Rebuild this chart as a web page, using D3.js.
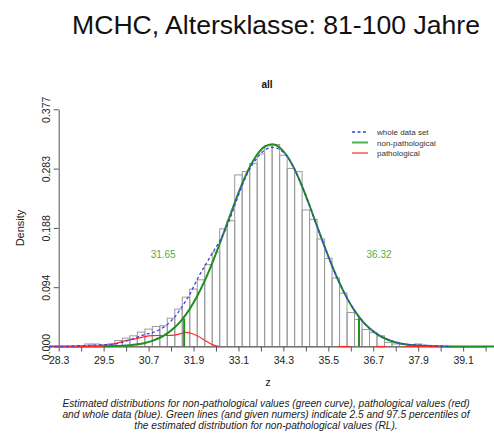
<!DOCTYPE html>
<html>
<head>
<meta charset="utf-8">
<script src="https://cdn.jsdelivr.net/npm/d3@7"></script>
<style>
  html, body { margin: 0; padding: 0; background: #fff; }
  svg { display: block; }
  text { font-family: "Liberation Sans", Arial, Helvetica, sans-serif; }
</style>
</head>
<body>
<svg id="chart" width="494" height="434"></svg>
<script>
// ---------------- data ----------------
const titleText = "MCHC, Altersklasse: 81-100 Jahre";
const panelText = "all";
const xLabel = "z";
const yLabel = "Density";

const xTicks = [28.3, 28.9, 29.5, 30.1, 30.7, 31.3, 31.9, 32.5, 33.1, 33.7, 34.3, 34.9, 35.5, 36.1, 36.7, 37.3, 37.9, 38.5, 39.1, 39.7];
const xTickLabels = ["28.3", "", "29.5", "", "30.7", "", "31.9", "", "33.1", "", "34.3", "", "35.5", "", "36.7", "", "37.9", "", "39.1", ""];
const yTicks = [0, 0.09425, 0.1885, 0.28275, 0.377];
const yTickLabels = ["0.000", "0.094", "0.188", "0.283", "0.377"];

// histogram: left edge of each 0.2-wide bin and its density
const binLeft = [28.8, 29.0, 29.2, 29.4, 29.6, 29.8, 30.0, 30.2, 30.4, 30.6, 30.8, 31.0, 31.2, 31.4, 31.6, 31.8,
                 32.0, 32.2, 32.4, 32.6, 32.8, 33.0, 33.2, 33.4, 33.6, 33.8, 34.0, 34.2, 34.4, 34.6, 34.8, 35.0,
                 35.2, 35.4, 35.6, 35.8, 36.0, 36.2, 36.4, 36.6, 36.8, 37.0, 37.2, 37.4, 37.6, 37.8, 38.0, 38.2];
const binDensity = [0.001, 0.004, 0.004, 0.003, 0.004, 0.0095, 0.0133, 0.017, 0.0228, 0.0276, 0.0318, 0.033, 0.045, 0.0594, 0.0784, 0.0912,
                    0.106, 0.130, 0.150, 0.187, 0.200, 0.2727, 0.278, 0.291, 0.306, 0.319, 0.321, 0.304, 0.283, 0.278, 0.217, 0.202,
                    0.171, 0.140, 0.109, 0.0848, 0.054, 0.043, 0.027, 0.022, 0.017, 0.0065, 0.004, 0.0035, 0.0025, 0.004, 0.002, 0.001];
const binWidth = 0.2;

// non-pathological (green) curve
const greenX = [28.05, 29.4, 29.6, 29.8, 30.0, 30.2, 30.4, 30.6, 30.8, 31.0, 31.2, 31.4, 31.6, 31.8, 32.0, 32.2, 32.4, 32.6, 32.8, 33.0,
                33.2, 33.4, 33.6, 33.8, 34.0, 34.2, 34.4, 34.6, 34.8, 35.0, 35.2, 35.4, 35.6, 35.8, 36.0, 36.2, 36.4, 36.6, 36.8,
                37.0, 37.2, 37.4, 37.6, 37.8, 38.0, 38.2, 38.4, 38.7, 39.95];
const greenY = [0, 0.0002, 0.0004, 0.0007, 0.0012, 0.0021, 0.0035, 0.0057, 0.009, 0.0139, 0.0209, 0.0305, 0.0433, 0.0598, 0.0802, 0.1046, 0.1327, 0.1636, 0.196, 0.2284,
                0.2588, 0.2851, 0.3052, 0.3177, 0.3216, 0.3164, 0.3027, 0.2815, 0.2545, 0.2237, 0.1911, 0.1588, 0.1283, 0.1007, 0.0769, 0.0571, 0.0412, 0.0289, 0.0197,
                0.0131, 0.0084, 0.0053, 0.0032, 0.0019, 0.0011, 0.0006, 0.0003, 0.0001, 0];

// whole data set (blue dashed) curve
const blueX = [28.05, 28.6, 28.8, 29.0, 29.2, 29.4, 29.6, 29.8, 30.0, 30.2, 30.4, 30.6, 30.8, 31.0, 31.2, 31.4, 31.6, 31.8, 32.0, 32.2,
               32.4, 32.6, 32.8, 33.0, 33.2, 33.4, 33.6, 33.8, 34.0, 34.2, 34.4, 34.6, 34.8, 35.0, 35.2, 35.4, 35.6, 35.8, 36.0,
               36.2, 36.4, 36.6, 36.8, 37.0, 37.2, 37.4, 37.6, 37.8, 38.0, 38.2, 38.4, 38.6, 38.8];
const blueY = [0, 0.0005, 0.001, 0.0015, 0.002, 0.0025, 0.003, 0.004, 0.007, 0.0105, 0.015, 0.019, 0.022, 0.027, 0.035, 0.047, 0.064, 0.083, 0.107, 0.128,
               0.148, 0.168, 0.192, 0.224, 0.256, 0.282, 0.300, 0.312, 0.3166, 0.313, 0.302, 0.2815, 0.2545, 0.2237, 0.191, 0.159, 0.128, 0.101, 0.077,
               0.057, 0.041, 0.029, 0.020, 0.013, 0.0085, 0.0055, 0.0035, 0.0025, 0.002, 0.0015, 0.001, 0.0005, 0];

// pathological (red) curve, drawn as separate pieces
const redPieces = [
  { x: [28.05, 29.4, 29.6, 29.8, 30.0, 30.2, 30.4, 30.6, 30.8, 31.0, 31.2, 31.4, 31.6, 31.7, 31.8, 32.0, 32.2, 32.4, 32.6],
    y: [0, 0, 0.002, 0.0045, 0.008, 0.0105, 0.013, 0.0158, 0.0172, 0.0175, 0.0175, 0.0182, 0.021, 0.0225, 0.0215, 0.017, 0.010, 0.003, 0] },
  { x: [35.77, 36.09], y: [0, 0] },
  { x: [36.78, 37.05], y: [0, 0] },
  { x: [37.5, 38.48], y: [0, 0] }
];

// 2.5 / 97.5 percentiles of the non-pathological distribution
const percentiles = [31.65, 36.32];
const percentileLabels = ["31.65", "36.32"];
const percentileHeights = [0.0445, 0.046];

const legendLabels = ["whole data set", "non-pathological", "pathological"];
const captionLines = [
  "Estimated distributions for non-pathological values (green curve), pathological values (red)",
  "and whole data (blue). Green lines (and given numers) indicate 2.5 and 97.5 percentiles of",
  "the estimated distribution for non-pathological values (RL)."
];

// ---------------- drawing ----------------
const svg = d3.select("#chart");
const x = d3.scaleLinear().domain([28.3, 39.7]).range([58.7, 485.6]);
const y = d3.scaleLinear().domain([0, 0.377]).range([346.5, 109.3]);

const colGreen = "#1f8f1f", colBlue = "#3c3cf0", colRed = "#ff2a2a", colBar = "#9a9a9a", colAxis = "#555";

// title
svg.append("text").attr("x", 276).attr("y", 34).attr("text-anchor", "middle")
  .attr("font-size", 26.6).attr("fill", "#111").text(titleText);
svg.append("text").attr("x", 267).attr("y", 88).attr("text-anchor", "middle")
  .attr("font-size", 10).attr("font-weight", "bold").attr("fill", "#111").text(panelText);

// histogram bars
svg.append("g").selectAll("rect").data(binLeft).join("rect")
  .attr("x", (d) => x(d))
  .attr("width", (d) => x(d + binWidth) - x(d))
  .attr("y", (d, i) => y(binDensity[i]))
  .attr("height", (d, i) => y(0) - y(binDensity[i]))
  .attr("fill", "none").attr("stroke", colBar).attr("stroke-width", 1);

// axes
const xAxis = d3.axisBottom(x).tickValues(xTicks).tickFormat((d, i) => xTickLabels[i]).tickSize(5).tickSizeOuter(0);
const gx = svg.append("g").attr("transform", `translate(0,${y(0)})`).call(xAxis);
gx.select(".domain").attr("stroke", colAxis);
gx.selectAll(".tick line").attr("stroke", colAxis);
gx.selectAll(".tick text").attr("font-size", 10.5).attr("fill", "#222").attr("dy", "0.9em")
  .attr("font-family", '"Liberation Sans", Arial, sans-serif');

const yAxis = d3.axisLeft(y).tickValues(yTicks).tickFormat((d, i) => yTickLabels[i]).tickSize(5).tickSizeOuter(0);
const gy = svg.append("g").attr("transform", `translate(${x(28.3)},0)`).call(yAxis);
gy.select(".domain").attr("stroke", colAxis);
gy.selectAll(".tick line").attr("stroke", colAxis);
gy.selectAll(".tick text").attr("font-size", 10.5).attr("fill", "#222")
  .attr("font-family", '"Liberation Sans", Arial, sans-serif')
  .attr("text-anchor", "middle").attr("x", 0).attr("dy", 0)
  .attr("transform", "translate(-9,0) rotate(-90)");

svg.append("text").attr("x", 268).attr("y", 386).attr("text-anchor", "middle")
  .attr("font-size", 11).attr("fill", "#222").text(xLabel);
svg.append("text").attr("transform", "translate(24,228) rotate(-90)").attr("text-anchor", "middle")
  .attr("font-size", 11).attr("fill", "#222").text(yLabel);

// curves
const line = d3.line().x((d) => x(d[0])).y((d) => y(d[1])).curve(d3.curveMonotoneX);
svg.append("path").datum(greenX.map((v, i) => [v, greenY[i]]))
  .attr("d", line).attr("fill", "none").attr("stroke", colGreen).attr("stroke-width", 2);
redPieces.forEach((p) => {
  svg.append("path").datum(p.x.map((v, i) => [v, p.y[i]]))
    .attr("d", line).attr("fill", "none").attr("stroke", colRed).attr("stroke-width", 1.2);
});
svg.append("path").datum(blueX.map((v, i) => [v, blueY[i]]))
  .attr("d", line).attr("fill", "none").attr("stroke", colBlue).attr("stroke-width", 1.3)
  .attr("stroke-dasharray", "3,2.5");

// percentile lines + labels
percentiles.forEach((p, i) => {
  svg.append("line").attr("x1", x(p)).attr("x2", x(p)).attr("y1", y(0)).attr("y2", y(percentileHeights[i]))
    .attr("stroke", colGreen).attr("stroke-width", 2);
});
const labelOffsets = [-21, 20];
percentiles.forEach((p, i) => {
  svg.append("text").attr("x", x(p) + labelOffsets[i]).attr("y", 258).attr("text-anchor", "middle")
    .attr("font-size", 10).attr("fill", "#4caf50").text(percentileLabels[i]);
});

// legend
const legendColors = [colBlue, "#4cb04c", colRed];
const legendDash = ["3,2.5", null, null];
const legendWidths = [1.3, 2, 1.2];
legendLabels.forEach((lab, i) => {
  const ly = 132 + i * 10.5;
  svg.append("line").attr("x1", 352).attr("x2", 368).attr("y1", ly).attr("y2", ly)
    .attr("stroke", legendColors[i]).attr("stroke-width", legendWidths[i])
    .attr("stroke-dasharray", legendDash[i]);
  svg.append("text").attr("x", 377).attr("y", ly + 3).attr("font-size", 8).attr("fill", "#333").text(lab);
});

// caption
captionLines.forEach((t, i) => {
  svg.append("text").attr("x", 266).attr("y", 406.5 + i * 11).attr("text-anchor", "middle")
    .attr("font-size", 10.2).attr("font-style", "italic").attr("fill", "#222").text(t);
});
</script>
</body>
</html>
